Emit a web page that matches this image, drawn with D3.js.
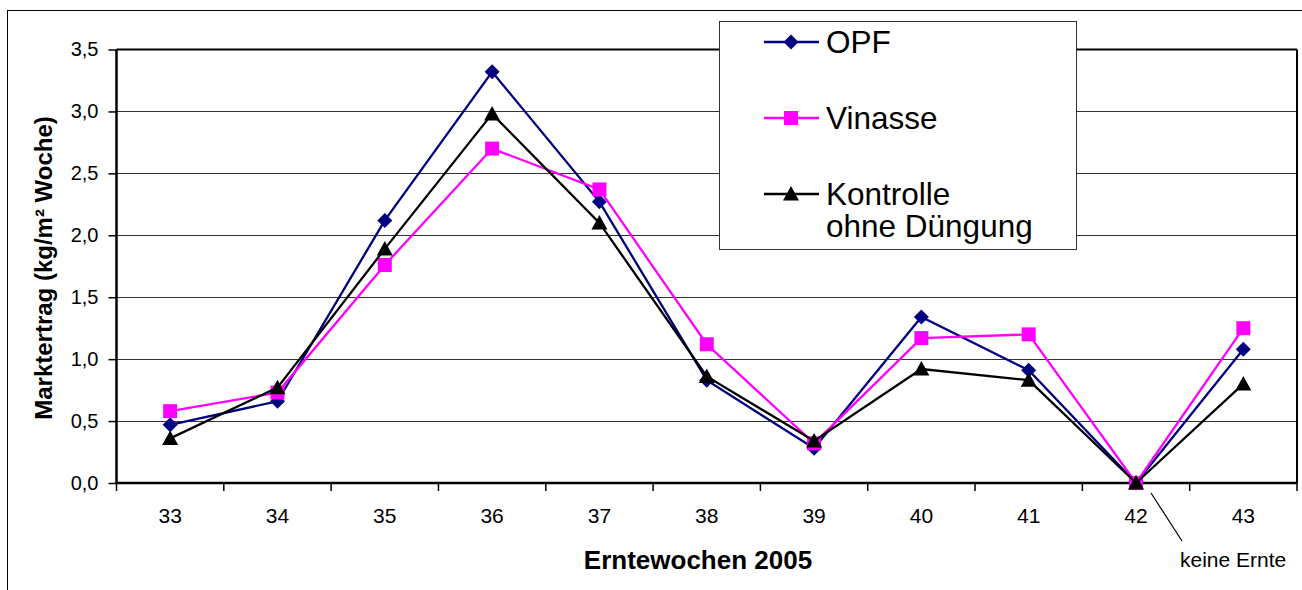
<!DOCTYPE html>
<html>
<head>
<meta charset="utf-8">
<script src="https://cdn.jsdelivr.net/npm/d3@7"></script>
<style>
  html, body { margin: 0; padding: 0; background: #fff; }
  svg { display: block; font-family: "Liberation Sans", Arial, sans-serif; }
</style>
</head>
<body>
<svg id="chart" width="1302" height="590"></svg>
<script>
const weeks = ["33","34","35","36","37","38","39","40","41","42","43"];
const opf = [0.47, 0.66, 2.12, 3.32, 2.27, 0.83, 0.28, 1.34, 0.91, 0.0, 1.08];
const vinasse = [0.58, 0.73, 1.76, 2.70, 2.37, 1.12, 0.32, 1.17, 1.20, 0.0, 1.25];
const kontrolle = [0.36, 0.77, 1.89, 2.98, 2.10, 0.86, 0.34, 0.92, 0.83, 0.0, 0.80];
const yTicks = [0, 0.5, 1.0, 1.5, 2.0, 2.5, 3.0, 3.5];
const seriesNames = ["OPF", "Vinasse", "Kontrolle"];

const svg = d3.select("#chart");
const L = 116.5, R = 1297, T = 49.5, B = 483;

const x = d3.scaleBand().domain(weeks).range([L, R]).padding(0);
const y = d3.scaleLinear().domain([0, 3.5]).range([B, T]);
const fmt = v => d3.format(".1f")(v).replace(".", ",");

// outer frame
svg.append("rect").attr("x", 7.5).attr("y", 10.5).attr("width", 1320).attr("height", 620)
  .attr("fill", "none").attr("stroke", "#000").attr("stroke-width", 1);

// gridlines
svg.append("g").selectAll("line").data(yTicks.filter(d => d > 0 && d < 3.5)).join("line")
  .attr("x1", L).attr("x2", R)
  .attr("y1", d => Math.round(y(d)) + 0.5).attr("y2", d => Math.round(y(d)) + 0.5)
  .attr("stroke", "#333").attr("stroke-width", 1);

// plot border top/right
svg.append("line").attr("x1", L).attr("x2", R).attr("y1", T).attr("y2", T).attr("stroke", "#000").attr("stroke-width", 2);
svg.append("line").attr("x1", R).attr("x2", R).attr("y1", T).attr("y2", B).attr("stroke", "#000").attr("stroke-width", 2);

// y axis
const yAxis = d3.axisLeft(y).tickValues(yTicks).tickFormat(fmt).tickSize(8).tickPadding(10);
const gy = svg.append("g").attr("transform", `translate(${L},0)`).call(yAxis);
gy.select(".domain").attr("stroke", "#000").attr("stroke-width", 2.5).attr("d", `M0,${T}V${B}`);
gy.selectAll(".tick line").attr("stroke", "#000").attr("stroke-width", 1.5);
gy.selectAll(".tick text").attr("font-size", 20).attr("fill", "#000").attr("font-family", "Liberation Sans, Arial, sans-serif");

// x axis: ticks at category boundaries
const gx = svg.append("g").attr("transform", `translate(0,${B})`);
gx.append("line").attr("x1", L - 1).attr("x2", R).attr("y1", 0).attr("y2", 0).attr("stroke", "#000").attr("stroke-width", 2.5);
const bounds = weeks.map(w => x(w)).concat([x(weeks[weeks.length - 1]) + x.bandwidth()]);
gx.selectAll("line.tk").data(bounds).join("line").attr("class", "tk")
  .attr("x1", d => d).attr("x2", d => d).attr("y1", 0).attr("y2", 8)
  .attr("stroke", "#000").attr("stroke-width", 1.5);
gx.selectAll("text").data(weeks).join("text")
  .attr("x", d => x(d) + x.bandwidth() / 2).attr("y", 40)
  .attr("text-anchor", "middle").attr("font-size", 21).attr("fill", "#000")
  .text(d => d);

// axis titles
svg.append("text").attr("x", 698).attr("y", 569).attr("text-anchor", "middle")
  .attr("font-size", 26).attr("font-weight", "bold").attr("fill", "#000")
  .text("Erntewochen 2005");
svg.append("text").attr("transform", "translate(52,268) rotate(-90)").attr("text-anchor", "middle")
  .attr("font-size", 24).attr("font-weight", "bold").attr("fill", "#000")
  .text("Marktertrag (kg/m² Woche)");

// series
const series = [
  { name: "OPF", values: opf, color: "#000080", symbol: d3.symbolDiamond },
  { name: "Vinasse", values: vinasse, color: "#FF00FF", symbol: d3.symbolSquare },
  { name: "Kontrolle", values: kontrolle, color: "#000000", symbol: d3.symbolTriangle }
];
const line = d3.line().x((d, i) => x(weeks[i]) + x.bandwidth() / 2).y(d => y(d));

function markerPath(s) {
  if (s.symbol === d3.symbolDiamond) return "M0,-7.5L7.5,0L0,7.5L-7.5,0Z";
  if (s.symbol === d3.symbolSquare) return "M-7,-7H7V7H-7Z";
  return "M0,-8L8,6.5H-8Z";
}

series.forEach(s => {
  const g = svg.append("g");
  g.append("path").datum(s.values).attr("d", line).attr("fill", "none")
    .attr("stroke", s.color).attr("stroke-width", 2.3).attr("stroke-linejoin", "miter");
  g.selectAll("path.m").data(s.values).join("path").attr("class", "m")
    .attr("transform", (d, i) => `translate(${x(weeks[i]) + x.bandwidth() / 2},${y(d)})`)
    .attr("d", markerPath(s)).attr("fill", s.color);
});

// annotation
svg.append("line").attr("x1", 1151).attr("y1", 493).attr("x2", 1182).attr("y2", 541)
  .attr("stroke", "#000").attr("stroke-width", 1.2);
svg.append("text").attr("x", 1180).attr("y", 567).attr("font-size", 21).attr("fill", "#000")
  .text("keine Ernte");

// legend
const lg = svg.append("g");
lg.append("rect").attr("x", 719.5).attr("y", 21.5).attr("width", 357).attr("height", 228)
  .attr("fill", "#fff").attr("stroke", "#333").attr("stroke-width", 1);
const legendRows = [
  { s: series[0], ly: 42, lines: ["OPF"], ty: 53 },
  { s: series[1], ly: 118, lines: ["Vinasse"], ty: 129 },
  { s: series[2], ly: 194, lines: ["Kontrolle", "ohne Düngung"], ty: 205 }
];
legendRows.forEach(r => {
  lg.append("line").attr("x1", 764).attr("x2", 819).attr("y1", r.ly).attr("y2", r.ly)
    .attr("stroke", r.s.color).attr("stroke-width", 2.3);
  lg.append("path").attr("transform", `translate(791,${r.ly})`).attr("d", markerPath(r.s)).attr("fill", r.s.color);
  const t = lg.append("text").attr("x", 826).attr("y", r.ty).attr("font-size", 31.5).attr("fill", "#000");
  r.lines.forEach((ln, i) => t.append("tspan").attr("x", 826).attr("dy", i === 0 ? 0 : 32).text(ln));
});
</script>
</body>
</html>
